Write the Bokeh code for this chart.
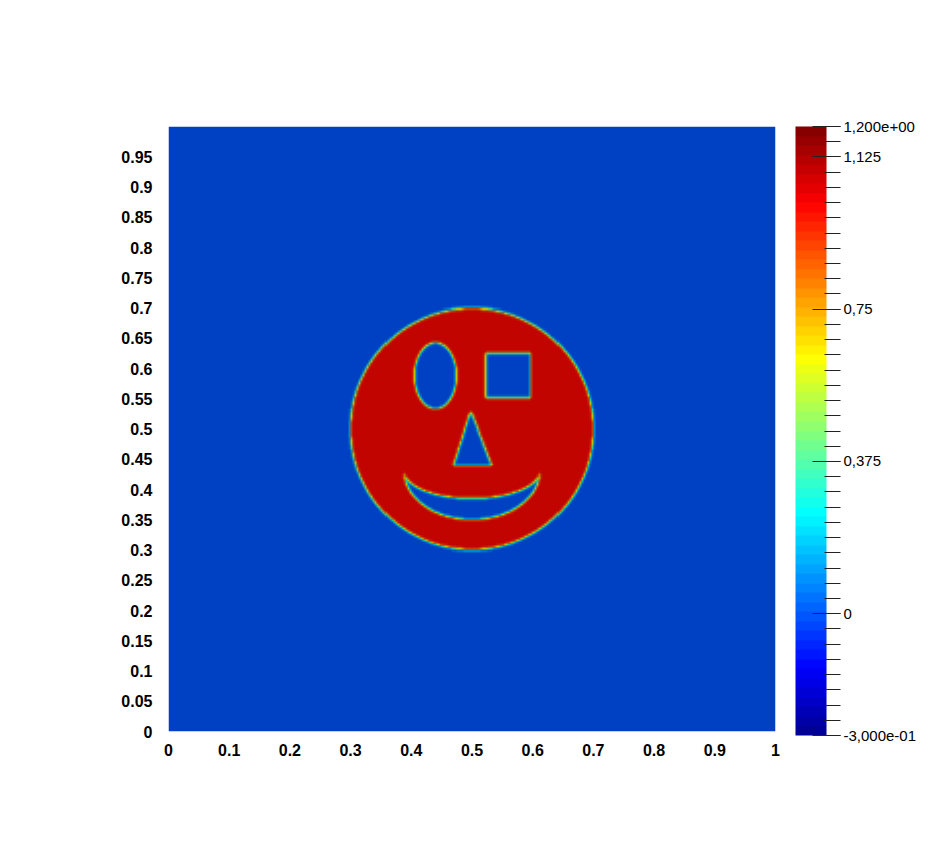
import numpy as np
from bokeh.plotting import figure
from bokeh.models import (LinearColorMapper, ColorBar, FixedTicker, Range1d)
from bokeh.embed import file_html
from bokeh.resources import INLINE

# ---- data: shapes of the smiley field ----
field_low, field_high = -0.3, 1.2
face_value, background_value = 1.0, 0.0
face_center = [0.5, 0.5]
face_radius = 0.2
eye_ellipse_center = [0.44, 0.588]
eye_ellipse_axes = [0.035, 0.055]
eye_square_x = [0.522, 0.597]
eye_square_y = [0.551, 0.625]
nose_x = [0.470, 0.532, 0.498]
nose_y = [0.440, 0.440, 0.528]
mouth_center = [0.5, 0.43]
mouth_outer_axes = [0.112, 0.080]
mouth_inner_axes = [0.112, 0.045]
grid_n = 300
supersample = 3

x_ticks = [0, 0.1, 0.2, 0.3, 0.4, 0.5, 0.6, 0.7, 0.8, 0.9, 1]
y_ticks = [0, 0.05, 0.1, 0.15, 0.2, 0.25, 0.3, 0.35, 0.4, 0.45, 0.5, 0.55,
           0.6, 0.65, 0.7, 0.75, 0.8, 0.85, 0.9, 0.95]
cb_major = [-0.3, 0, 0.375, 0.75, 1.125, 1.2]
cb_labels = ["-3,000e-01", "0", "0,375", "0,75", "1,125", "1,200e+00"]
cb_minor_step = 0.0375

# ParaView "jet" control points (normalized position, r, g, b)
jet_pts = [(0.0, 0, 0, 0.5625), (0.111111, 0, 0, 1), (0.365079, 0, 1, 1),
           (0.492063, 0.5, 1, 0.5), (0.619048, 1, 1, 0), (0.873016, 1, 0, 0),
           (1.0, 0.5, 0, 0)]
n_colors = 64
shade = 0.76

# ---- build field ----
m = grid_n * supersample
c = (np.arange(m) + 0.5) / m
X, Y = np.meshgrid(c, c)
inside = (X - face_center[0])**2 + (Y - face_center[1])**2 <= face_radius**2
eye1 = ((X - eye_ellipse_center[0]) / eye_ellipse_axes[0])**2 + \
       ((Y - eye_ellipse_center[1]) / eye_ellipse_axes[1])**2 <= 1
eye2 = (X >= eye_square_x[0]) & (X <= eye_square_x[1]) & \
       (Y >= eye_square_y[0]) & (Y <= eye_square_y[1])

def tri(px, py):
    (x1, x2, x3), (y1, y2, y3) = nose_x, nose_y
    d = (y2 - y3) * (x1 - x3) + (x3 - x2) * (y1 - y3)
    a = ((y2 - y3) * (px - x3) + (x3 - x2) * (py - y3)) / d
    b = ((y3 - y1) * (px - x3) + (x1 - x3) * (py - y3)) / d
    return (a >= 0) & (b >= 0) & (a + b <= 1)

nose = tri(X, Y)
mo = ((X - mouth_center[0]) / mouth_outer_axes[0])**2 + \
     ((Y - mouth_center[1]) / mouth_outer_axes[1])**2 <= 1
mi = ((X - mouth_center[0]) / mouth_inner_axes[0])**2 + \
     ((Y - mouth_center[1]) / mouth_inner_axes[1])**2 <= 1
mouth = mo & ~mi & (Y <= mouth_center[1])
mask = inside & ~eye1 & ~eye2 & ~nose & ~mouth
Fs = np.where(mask, face_value, background_value).astype(float)
F = Fs.reshape(grid_n, supersample, grid_n, supersample).mean(axis=(1, 3))
# slight smoothing of the interface (5-point kernel)
P = np.pad(F, 1, mode="edge")
F = 0.5 * P[1:-1, 1:-1] + 0.125 * (P[:-2, 1:-1] + P[2:, 1:-1] +
                                   P[1:-1, :-2] + P[1:-1, 2:])

# ---- palettes ----
def jet(t):
    for (p0, r0, g0, b0), (p1, r1, g1, b1) in zip(jet_pts[:-1], jet_pts[1:]):
        if t <= p1:
            f = (t - p0) / (p1 - p0)
            return (r0 + f * (r1 - r0), g0 + f * (g1 - g0), b0 + f * (b1 - b0))
    return jet_pts[-1][1:]

def hexc(rgb, k=1.0):
    return "#%02x%02x%02x" % tuple(int(round(min(1, v * k) * 255)) for v in rgb)

base = [jet((i + 0.5) / n_colors) for i in range(n_colors)]
bright_palette = [hexc(rgb) for rgb in base]
dark_palette = [hexc(rgb, shade) for rgb in base]

img_mapper = LinearColorMapper(palette=dark_palette, low=field_low, high=field_high)
bar_mapper = LinearColorMapper(palette=bright_palette, low=field_low, high=field_high)

p = figure(output_backend="svg", toolbar_location=None,
           frame_width=607, frame_height=605,
           x_range=Range1d(0, 1), y_range=Range1d(0, 1),
           min_border_left=168, min_border_top=126, min_border_bottom=60,
           min_border_right=10)
p.outline_line_color = None
p.grid.visible = False
p.image(image=[F], x=0, y=0, dw=1, dh=1, color_mapper=img_mapper)

for ax in (p.xaxis[0], p.yaxis[0]):
    ax.axis_line_color = None
    ax.major_tick_line_color = None
    ax.minor_tick_line_color = None
    ax.major_label_text_font = "Liberation Sans"
    ax.major_label_text_font_style = "bold"
    ax.major_label_text_font_size = "16px"
    ax.major_label_text_color = "#000000"
p.xaxis[0].ticker = FixedTicker(ticks=x_ticks)
p.yaxis[0].ticker = FixedTicker(ticks=y_ticks)
p.xaxis[0].major_label_overrides = {t: ("%g" % t) for t in x_ticks}
p.yaxis[0].major_label_overrides = {t: ("%g" % t) for t in y_ticks}
p.xaxis[0].major_label_standoff = 6
p.yaxis[0].major_label_standoff = 10

n_minor = int(round((field_high - field_low) / cb_minor_step))
minor = [field_low + i * cb_minor_step for i in range(n_minor + 1)]
cb = ColorBar(color_mapper=bar_mapper, width=31, height=609,
              location=(20, -4), padding=0, margin=0,
              ticker=FixedTicker(ticks=cb_major, minor_ticks=minor),
              major_label_overrides={t: l for t, l in zip(cb_major, cb_labels)},
              major_tick_in=14, major_tick_out=14,
              minor_tick_in=2, minor_tick_out=14,
              major_tick_line_color="#222222", minor_tick_line_color="#222222",
              label_standoff=3,
              major_label_text_font="Liberation Sans",
              major_label_text_font_size="15px",
              major_label_text_color="#000000",
              background_fill_color=None, bar_line_color=None,
              border_line_color=None)
p.add_layout(cb, "right")

open("out.html", "w").write(file_html(p, INLINE))
